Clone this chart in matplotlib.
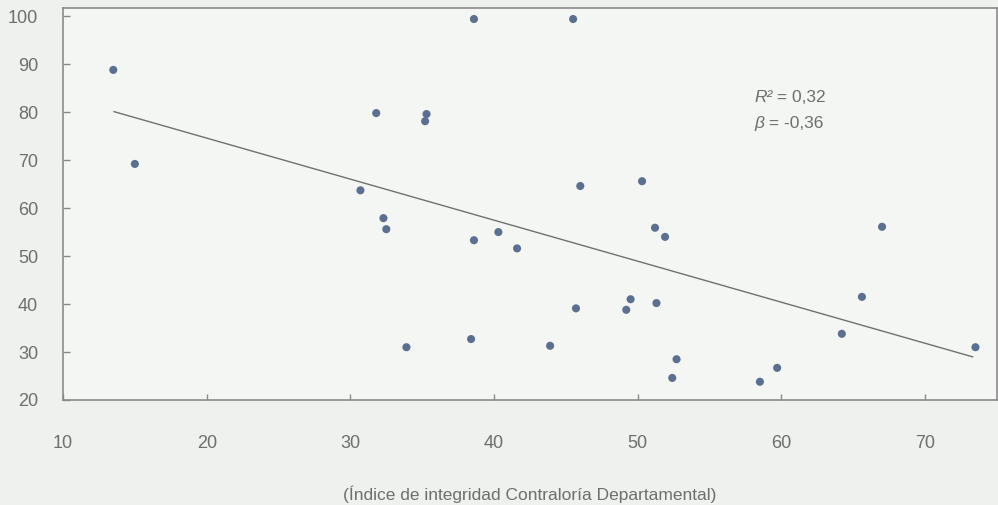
import matplotlib
matplotlib.use("Agg")
import matplotlib.pyplot as plt

# Puntos (índice Contraloría vs. eje vertical)
indice_contraloria = [13.5, 15.0, 38.6, 45.5, 31.8, 35.3, 35.2, 30.7, 32.3, 32.5,
                      38.6, 40.3, 41.6, 46.0, 50.3, 51.2, 51.9, 67.0, 33.9, 38.4,
                      43.9, 45.7, 49.2, 49.5, 51.3, 52.7, 52.4, 58.5, 59.7, 64.2,
                      65.6, 73.5]
valor_y = [88.8, 69.2, 99.4, 99.4, 79.8, 79.6, 78.1, 63.7, 57.9, 55.6,
           53.3, 55.0, 51.6, 64.6, 65.6, 55.9, 54.0, 56.1, 31.0, 32.7,
           31.3, 39.1, 38.8, 41.0, 40.2, 28.5, 24.6, 23.8, 26.7, 33.8,
           41.5, 31.0]

# Recta de regresión (extremos leídos)
recta_x = [13.55, 73.3]
recta_y = [80.1, 29.0]

x_ticks = [10, 20, 30, 40, 50, 60, 70]
y_ticks = [20, 30, 40, 50, 60, 70, 80, 90, 100]
texto_r2 = "R²"
valor_r2 = " = 0,32"
texto_beta = "β"
valor_beta = " = -0,36"
etiqueta_x = "(Índice de integridad Contraloría Departamental)"

plt.rcParams["font.family"] = ["Liberation Sans", "DejaVu Sans"]

gris_texto = "#6e6e6e"
gris_eje = "#8a8a8a"

fig = plt.figure(figsize=(9.98, 5.05), dpi=100, facecolor="#eef1ed")
ax = fig.add_axes([63 / 998, 1 - 400 / 505, 934 / 998, 392 / 505])
ax.set_facecolor("#f4f6f3")

ax.plot(recta_x, recta_y, color="#707070", lw=1.0, zorder=2)
ax.scatter(indice_contraloria, valor_y, s=34, color="#5b6f91", edgecolors="none", zorder=3)

ax.set_xlim(10, 75)
ax.set_ylim(20, 101.7)
ax.set_xticks(x_ticks)
ax.set_yticks(y_ticks)

for lado in ["left", "bottom", "top", "right"]:
    ax.spines[lado].set_color(gris_eje)
    ax.spines[lado].set_linewidth(1.2)

ax.tick_params(axis="y", direction="in", length=5, width=1, color=gris_eje,
               pad=18, labelsize=13, labelcolor=gris_texto)
ax.tick_params(axis="x", direction="in", length=4, width=1, color=gris_eje,
               pad=25, labelsize=13, labelcolor=gris_texto)

# texto de la regresión: símbolo en cursiva + valor
for texto, valor, y in [(texto_r2, valor_r2, 83.1), (texto_beta, valor_beta, 77.7)]:
    t = ax.text(58.1, y, texto, fontsize=12.5, color=gris_texto, va="center",
                ha="left", style="italic")
    ax.annotate(valor, xy=(1, 0.5), xycoords=t, va="center", ha="left",
                fontsize=12.5, color=gris_texto)

ax.set_xlabel(etiqueta_x, fontsize=12.5, color=gris_texto, labelpad=24)

fig.savefig("out.png", dpi=100, facecolor=fig.get_facecolor())
